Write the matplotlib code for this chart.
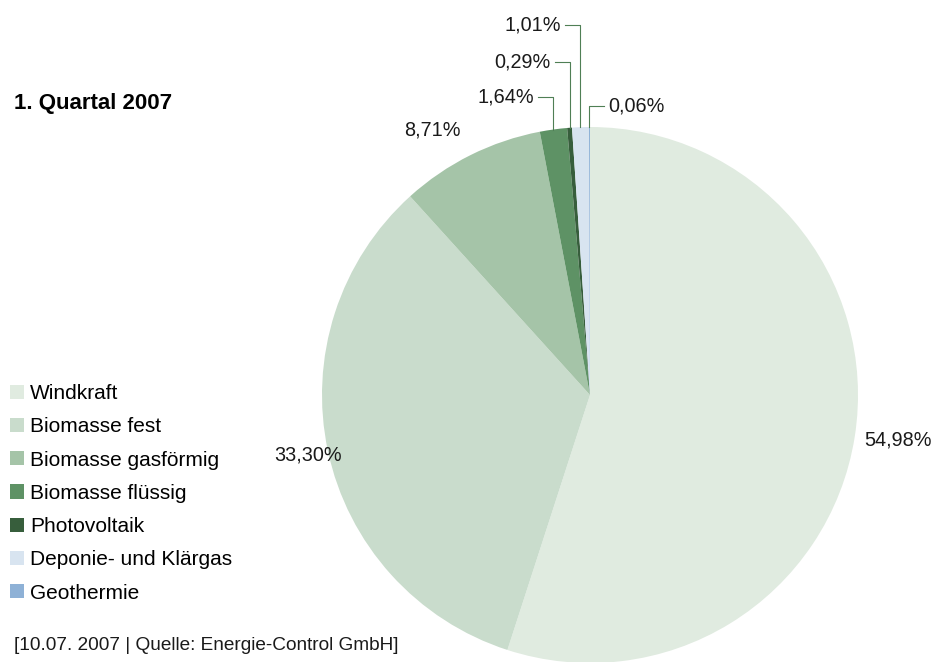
import numpy as np
import matplotlib
matplotlib.use("Agg")
import matplotlib.pyplot as plt

plt.rcParams["font.family"] = ["Liberation Sans", "DejaVu Sans"]

# Daten
kategorien = ["Windkraft", "Biomasse fest", "Biomasse gasförmig", "Biomasse flüssig",
              "Photovoltaik", "Deponie- und Klärgas", "Geothermie"]
anteile = [54.98, 33.30, 8.71, 1.64, 0.29, 1.01, 0.06]
farben = ["#e0ebe0", "#c9dccc", "#a5c4a8", "#5e9265", "#375e3c", "#d8e4f0", "#8eb1d6"]

fig = plt.figure(figsize=(9.37, 6.62), dpi=100)
W, H = 937, 662
cx, cy, r = 590, 395, 268
ax = fig.add_axes([(cx - r) / W, (H - cy - r) / H, 2 * r / W, 2 * r / H])

wedges, _ = ax.pie(anteile, colors=farben, startangle=90, counterclock=False,
                   wedgeprops=dict(linewidth=0), radius=1)
ax.set_xlim(-1, 1)
ax.set_ylim(-1, 1)
ax.set_aspect("equal")
ax.axis("off")

def fmt(v):
    return f"{v:.2f}%".replace(".", ",")

# Mittelwinkel der Segmente (Grad, mathematisch)
cum = np.cumsum([0] + anteile)
total = sum(anteile)
mitte = [90 - 360 * (cum[i] + anteile[i] / 2) / total for i in range(len(anteile))]

def px(x, y):
    return (x - cx) / r, (cy - y) / r

fs = 14.3
# große Segmente: Beschriftung ohne Linie
for i, pos in [(0, (898, 440)), (1, (308, 455)), (2, (432, 130))]:
    tx, ty = px(*pos)
    ax.text(tx, ty, fmt(anteile[i]), ha="center", va="center", fontsize=fs,
            color="#1a1a1a", clip_on=False)

# kleine Segmente: Beschriftung mit Führungslinie
linie = "#4f7f55"
for i, lab_y, seite in [(3, 97, -1), (4, 62, -1), (5, 25, -1), (6, 106, 1)]:
    a = np.deg2rad(mitte[i])
    x0, y0 = np.cos(a), np.sin(a)
    _, ly = px(0, lab_y)
    x1 = x0 + seite * 15 / r
    ax.plot([x0, x0, x1], [y0, ly, ly], color=linie, linewidth=0.8, clip_on=False)
    ax.text(x1 + seite * 4 / r, ly, fmt(anteile[i]), ha="left" if seite > 0 else "right",
            va="center", fontsize=fs, color="#1a1a1a", clip_on=False)

fig.text(14 / W, 1 - 103 / H, "1. Quartal 2007", fontsize=16, fontweight="bold",
         ha="left", va="center")
fig.text(14 / W, 1 - 645 / H, "[10.07. 2007 | Quelle: Energie-Control GmbH]",
         fontsize=13.7, ha="left", va="center", color="#1a1a1a")

fig.legend(wedges, kategorien, loc="upper left", bbox_to_anchor=(10 / W, 1 - 384 / H),
           frameon=False, fontsize=15, handlelength=0.67, handleheight=0.67,
           handletextpad=0.3, labelspacing=0.685, borderaxespad=0, borderpad=0)

fig.savefig("out.png", dpi=100)
